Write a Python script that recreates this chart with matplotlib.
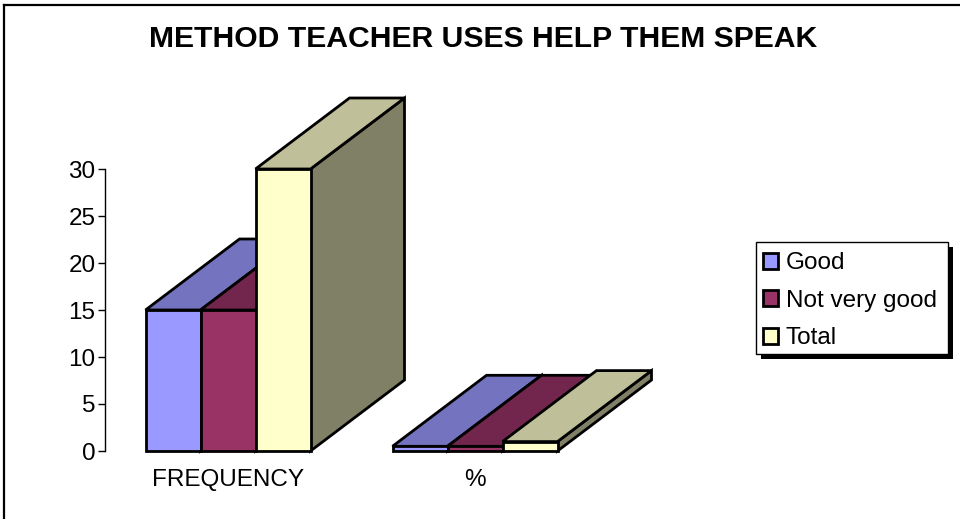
import matplotlib
matplotlib.use('Agg')
import matplotlib.pyplot as plt
from matplotlib.lines import Line2D
from matplotlib.patches import Patch, Polygon, Rectangle

plt.rcParams['font.family'] = ['Liberation Sans', 'DejaVu Sans']

title = 'METHOD TEACHER USES HELP THEM SPEAK'
categories = ['FREQUENCY', '%']
series_names = ['Good', 'Not very good', 'Total']
good = [15, 0.5]
not_very_good = [15, 0.5]
total = [30, 1]
y_ticks = [0, 5, 10, 15, 20, 25, 30]

front_colors = ['#9999FF', '#993366', '#FFFFCC']
top_colors = ['#7373BF', '#73264D', '#BFBF99']
side_colors = ['#5C5C99', '#4D1A33', '#808066']

W, H = 960, 519

# the "3d" look is only an offset in data units
BAR_W = 55 / 247
DEPTH_X = 94 / 247
DEPTH_Y = 71 / 9.4


def draw_bar(ax, x, val, i):
    x2 = x + BAR_W
    style = dict(edgecolor='black', lw=2, joinstyle='miter', clip_on=False)
    side = [(x2, 0), (x2 + DEPTH_X, DEPTH_Y), (x2 + DEPTH_X, val + DEPTH_Y), (x2, val)]
    top = [(x, val), (x + DEPTH_X, val + DEPTH_Y), (x2 + DEPTH_X, val + DEPTH_Y), (x2, val)]
    front = [(x, 0), (x, val), (x2, val), (x2, 0)]
    ax.add_patch(Polygon(side, facecolor=side_colors[i], **style))
    ax.add_patch(Polygon(top, facecolor=top_colors[i], **style))
    ax.add_patch(Polygon(front, facecolor=front_colors[i], **style))


fig = plt.figure(figsize=(W / 100, H / 100), dpi=100)

# chart border, only top and left are inside the picture
fig.add_artist(Line2D([3.5 / W, 1], [1 - 4.5 / H, 1 - 4.5 / H], color='black', lw=1.6))
fig.add_artist(Line2D([3.5 / W, 3.5 / W], [0, 1 - 4.5 / H], color='black', lw=1.6))

ax = fig.add_axes([104.5 / W, 1 - 451 / H, 494 / W, 282 / H])
ax.set_xlim(0, 2)
ax.set_ylim(0, 30)
ax.patch.set_alpha(0)

for s in ['top', 'right', 'bottom']:
    ax.spines[s].set_visible(False)
ax.spines['left'].set_linewidth(1)

for c in range(len(categories)):
    vals = [good[c], not_very_good[c], total[c]]
    start = c + 0.5 - 1.5 * BAR_W
    for i, v in enumerate(vals):
        draw_bar(ax, start + i * BAR_W, v, i)

ax.set_yticks(y_ticks)
ax.set_xticks([0.5, 1.5])
ax.set_xticklabels(categories)
ax.tick_params(axis='y', length=5, width=1, labelsize=17.5, pad=1.5)
ax.tick_params(axis='x', length=0, labelsize=17.5, pad=13)

fig.text(483 / W, 1 - 39 / H, title, fontsize=21.7, fontweight='bold', ha='center', va='center')

# legend frame and its hard shadow are drawn by hand, the padding of a
# real legend frame can't be set per side
fig.add_artist(Rectangle((761 / W, 1 - 359 / H), 192 / W, 112 / H, transform=fig.transFigure,
                         facecolor='black', edgecolor='none'))
fig.add_artist(Rectangle((756 / W, 1 - 354 / H), 192 / W, 112 / H, transform=fig.transFigure,
                         facecolor='white', edgecolor='black', lw=1))

handles = [Patch(facecolor=front_colors[i], edgecolor='black', lw=2) for i in range(3)]
leg = fig.legend(handles, series_names, loc='upper left',
                 bbox_to_anchor=(755.5 / W, 1 - 245 / H), bbox_transform=fig.transFigure,
                 borderaxespad=0, fontsize=17.5, frameon=False,
                 handlelength=0.64, handleheight=0.64, handletextpad=0.3,
                 labelspacing=0.64, borderpad=0.3)

fig.savefig('out.png', dpi=100)
